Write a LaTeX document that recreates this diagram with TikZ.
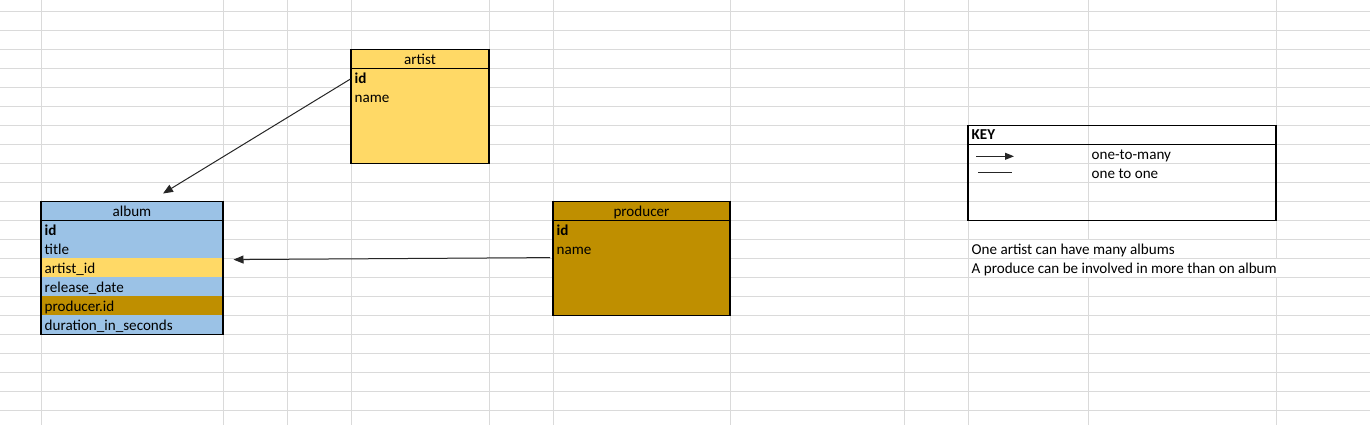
\documentclass[tikz,border=0pt]{standalone}
\usepackage{fontspec}
\setmainfont{Carlito}
\usetikzlibrary{arrows.meta}
\definecolor{gridc}{HTML}{DADADA}
\definecolor{artistc}{HTML}{FFD966}
\definecolor{albumc}{HTML}{9BC2E6}
\definecolor{producerc}{HTML}{BF8F00}
\newcommand{\xlfont}{\fontsize{15.1pt}{17pt}\selectfont}
\begin{document}
\begin{tikzpicture}[x=1pt,y=-1pt,
  gridline/.style={gridc, line width=1pt},
  tblbox/.style={draw=black, line width=1.2pt},
  tblfill/.style={anchor=north west, inner sep=0pt, outer sep=0pt},
  celltxt/.style={anchor=base west, inner sep=0pt, font=\xlfont},
  hdrtxt/.style={anchor=base, inner sep=0pt, font=\xlfont},
  rel/.style={draw=black!85, line width=1pt, -{Triangle[length=10pt,width=8pt]}}]
\useasboundingbox (0,0) rectangle (1370,425);
\fill[white] (0,0) rectangle (1370,425);
% spreadsheet gridlines
\foreach \gx in {41,223,287,351,489,553,730,904,968,1088,1276}
  \draw[gridline] (\gx,0) -- (\gx,425);
\foreach \k in {0,...,21}
  \draw[gridline] (0,{11.3+19*\k}) -- (1370,{11.3+19*\k});
% overflowing text hides vertical gridlines
\fill[white] (1087,239.9) rectangle (1089,276.8);
\fill[white] (1275,258.9) rectangle (1277,276.8);

% artist table
\node[tblfill, fill=artistc, minimum width=138pt, minimum height=114pt] (artist) at (351,49.3) {};
\draw[tblbox] (artist.north west) rectangle (artist.south east);
\draw[tblbox] (351,68.3) -- (489,68.3);
\node[hdrtxt] (artisthdr) at (420,64.6) {artist};
\node[celltxt] (artistid) at (354.5,83.1) {\bfseries id};
\node[celltxt] (artistname) at (354.5,102.1) {name};

% album table
\node[tblfill, fill=albumc, minimum width=182pt, minimum height=133pt] (album) at (41,201.3) {};
\fill[artistc] (41,258.3) rectangle (223,277.3);
\fill[producerc] (41,296.3) rectangle (223,315.3);
\draw[tblbox] (album.north west) rectangle (album.south east);
\draw[tblbox] (41,220.3) -- (223,220.3);
\node[hdrtxt] (albumhdr) at (132,216.6) {album};
\node[celltxt] (albumid) at (44.5,235.1) {\bfseries id};
\node[celltxt] (albumtitle) at (44.5,254.1) {title};
\node[celltxt] (albumartist) at (44.5,273.1) {artist\_id};
\node[celltxt] (albumrelease) at (44.5,292.1) {release\_date};
\node[celltxt] (albumproducer) at (44.5,311.1) {producer.id};
\node[celltxt] (albumduration) at (44.5,330.1) {duration\_in\_seconds};

% producer table
\node[tblfill, fill=producerc, minimum width=177pt, minimum height=114pt] (producer) at (553,201.3) {};
\draw[tblbox] (producer.north west) rectangle (producer.south east);
\draw[tblbox] (553,220.3) -- (730,220.3);
\node[hdrtxt] (producerhdr) at (641.5,216.6) {producer};
\node[celltxt] (producerid) at (556.5,235.1) {\bfseries id};
\node[celltxt] (producername) at (556.5,254.1) {name};

% key
\node[tblfill, minimum width=308pt, minimum height=95pt] (key) at (968,125.3) {};
\draw[tblbox] (key.north west) rectangle (key.south east);
\draw[tblbox] (968,144.3) -- (1276,144.3);
\node[celltxt] (keyhdr) at (971.5,139.6) {\bfseries KEY};
\node[celltxt] (keymany) at (1091.5,159.1) {one-to-many};
\node[celltxt] (keyone) at (1091.5,178.1) {one to one};
\coordinate (k1s) at (976,156.3);
\coordinate (k1e) at (1014,156.3);
\draw[rel, -{Triangle[length=9pt,width=7pt]}] (k1s) -- (k1e);
\coordinate (k2s) at (978,172.3);
\coordinate (k2e) at (1012,172.3);
\draw[draw=black!85, line width=1pt] (k2s) -- (k2e);

% notes
\node[celltxt] (note1) at (971.5,254.1) {One artist can have many albums};
\node[celltxt] (note2) at (971.5,273.1) {A produce can be involved in more than on album};

% connectors
\coordinate (a1s) at (350.5,79);
\coordinate (a1e) at (163,193.5);
\draw[rel] (a1s) -- (a1e);
\coordinate (a2s) at (550,257.6);
\coordinate (a2e) at (233.5,259.6);
\draw[rel] (a2s) -- (a2e);
\end{tikzpicture}
\end{document}
